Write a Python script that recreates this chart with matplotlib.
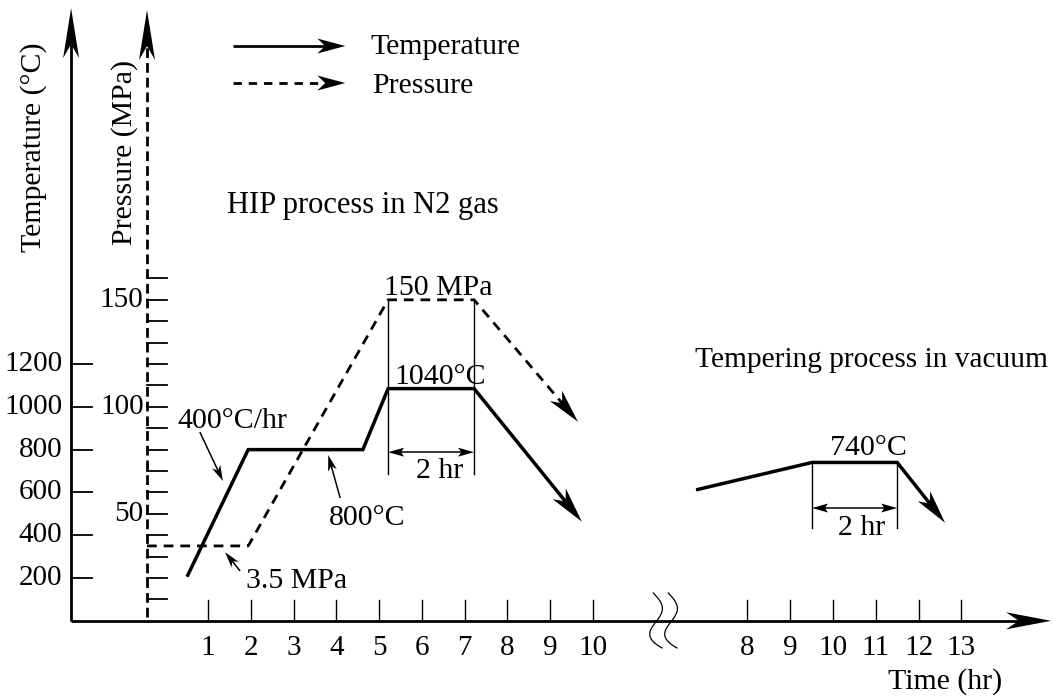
import numpy as np
import matplotlib.pyplot as plt
from matplotlib.patches import Polygon

plt.rcParams['font.family'] = ['Liberation Serif', 'DejaVu Serif']
plt.rcParams['font.size'] = 21.5

# HIP cycle, temperature (solid line), hours / deg C
hip_hours = [0.51, 1.94, 4.62, 5.21, 7.22, 9.74]
hip_temp = [206, 800, 800, 1085, 1085, 463]

# HIP cycle, pressure (dashed line), hours / MPa
press_hours = [-0.425, 1.94, 5.21, 7.22, 9.65]
press_mpa = [35, 35, 150, 150, 93]

# tempering in vacuum, hours on the second time scale / deg C
temper_hours = [6.80, 9.51, 11.50, 12.62]
temper_temp = [612, 740, 740, 458]

temp_ticks = [200, 400, 600, 800, 1000, 1200]
press_ticks = list(range(10, 170, 10))
press_labels = [50, 100, 150]
hip_time_ticks = list(range(1, 11))
temper_time_ticks = list(range(8, 14))

MPA = 10            # 1 MPa is drawn as 10 deg C on the shared y scale
SHIFT = 5.61        # second time axis (after the break) offset
T_AXIS = -2.20      # x of temperature axis
P_AXIS = -0.425     # x of pressure axis
PX_X = 42.78        # pixels per hour
PX_Y = 0.214        # pixels per deg C

fig = plt.figure(figsize=(10.53, 7), dpi=100)
ax = fig.add_axes([0, 0, 1, 1])
ax.set_xlim(-3.862, 20.753)
ax.set_ylim(-370, 2901)
ax.axis('off')


def head(start, end, L, W, notch=0.72):
    # notched arrow head at end, sizes in pixels; returns the notch point
    dx = (end[0] - start[0]) * PX_X
    dy = (end[1] - start[1]) * PX_Y
    n = np.hypot(dx, dy)
    ux, uy = dx / n, dy / n
    pts = [(0, 0), (-L * ux - W * uy, -L * uy + W * ux),
           (-notch * L * ux, -notch * L * uy), (-L * ux + W * uy, -L * uy - W * ux)]
    verts = [(end[0] + px / PX_X, end[1] + py / PX_Y) for px, py in pts]
    ax.add_patch(Polygon(verts, closed=True, facecolor='black', edgecolor='none'))
    return (end[0] - notch * L * ux / PX_X, end[1] - notch * L * uy / PX_Y)


def arrow(start, end, L, W, lw, ls='-'):
    nx, ny = head(start, end, L, W)
    ax.plot([start[0], nx], [start[1], ny], color='black', lw=lw, ls=ls,
            solid_capstyle='butt')


def dim_arrow(x1, x2, y):
    a = head((x2, y), (x1, y), 16, 4.5, notch=0.8)
    b = head((x1, y), (x2, y), 16, 4.5, notch=0.8)
    ax.plot([a[0], b[0]], [y, y], color='black', lw=1.1)


# axes
arrow((T_AXIS, 0), (T_AXIS, 2863), 50, 8, 2.0)
arrow((P_AXIS, 18), (P_AXIS, 2854), 50, 8, 2.0, ls=(0, (3.5, 1.8)))
arrow((T_AXIS, 0), (20.71, 0), 45, 8.5, 2.0)

# temperature ticks
for t in temp_ticks:
    ax.plot([T_AXIS, -1.71], [t, t], color='black', lw=1.3)
    ax.text(-2.41, t, str(t), ha='right', va='center', fontsize=21)

# pressure ticks
for p in press_ticks:
    ax.plot([P_AXIS, 0.042], [p * MPA, p * MPA], color='black', lw=1.3)
for p in press_labels:
    ax.text(P_AXIS - 0.08, p * MPA, str(p), ha='right', va='center', fontsize=21)

# time ticks
for h in hip_time_ticks:
    ax.plot([h, h], [0, 95], color='black', lw=1)
    ax.text(h, -127, str(h), ha='center', va='center', fontsize=21)
for h in temper_time_ticks:
    ax.plot([h + SHIFT, h + SHIFT], [0, 95], color='black', lw=1)
    ax.text(h + SHIFT, -127, str(h), ha='center', va='center', fontsize=21)

# axis break squiggles
tt = np.linspace(0, 1, 60)
dx = (9 * np.sin(2 * np.pi * tt * 0.9) + 14 * tt ** 4) / PX_X
sy = 130 - tt * 257
for x0 in [11.41, 11.76]:
    ax.plot(x0 + dx, sy, color='black', lw=0.9)

# HIP temperature curve
nx, ny = head((hip_hours[-2], hip_temp[-2]), (hip_hours[-1], hip_temp[-1]), 36, 8.5)
ax.plot(hip_hours[:-1] + [nx], hip_temp[:-1] + [ny], color='black', lw=2.5,
        solid_joinstyle='miter', solid_capstyle='butt')

# HIP pressure curve
py = [p * MPA for p in press_mpa]
nx, ny = head((press_hours[-2], py[-2]), (press_hours[-1], py[-1]), 34, 8)
ax.plot(press_hours[:-1] + [nx], py[:-1] + [ny], color='black', lw=2,
        ls=(0, (3.5, 2.5)))

# tempering curve
th = [h + SHIFT for h in temper_hours]
nx, ny = head((th[-2], temper_temp[-2]), (th[-1], temper_temp[-1]), 34, 8)
ax.plot(th[:-1] + [nx], temper_temp[:-1] + [ny], color='black', lw=2.5,
        solid_joinstyle='miter', solid_capstyle='butt')

# hold time dimension marks
for x in [hip_hours[3], hip_hours[4]]:
    ax.plot([x, x], [press_mpa[2] * MPA, 686], color='black', lw=1)
dim_arrow(hip_hours[3], hip_hours[4], 788)
ax.text(6.41, 700, '2 hr', ha='center', va='center')

for x in [th[1], th[2]]:
    ax.plot([x, x], [temper_temp[1], 432], color='black', lw=1)
dim_arrow(th[1], th[2], 527)
ax.text(10.66 + SHIFT, 433, '2 hr', ha='center', va='center')

# annotations
ax.text(6.38, 1555, '150 MPa', ha='center', va='center')
ax.text(6.43, 1138, '1040°C', ha='center', va='center')
ax.text(10.82 + SHIFT, 808, '740°C', ha='center', va='center')

ax.text(1.58, 934, '400°C/hr', ha='center', va='center')
arrow((0.81, 882), (1.35, 653), 16, 4.5, 1.1)
ax.text(4.72, 480, '800°C', ha='center', va='center')
arrow((4.09, 574), (3.81, 775), 16, 4.5, 1.1)
ax.text(3.08, 186, '3.5 MPa', ha='center', va='center')
arrow((1.75, 233), (1.40, 321), 16, 4.5, 1.1)

ax.text(4.63, 1942, 'HIP process in N2 gas', ha='center', va='center', fontsize=22)
ax.text(12.38, 1218, 'Tempering process in vacuum', ha='left', va='center',
        fontsize=21.2)

# legend
arrow((1.59, 2686), (4.21, 2686), 28, 7.5, 2)
ax.text(4.79, 2680, 'Temperature', ha='left', va='center')
arrow((1.59, 2513), (4.21, 2513), 28, 7.5, 2, ls=(0, (3, 2.5)))
ax.text(4.83, 2499, 'Pressure', ha='left', va='center')

# axis titles
ax.text(-3.08, 2214, 'Temperature (°C)', rotation=90, ha='center', va='center')
ax.text(-0.96, 2190, 'Pressure (MPa)', rotation=90, ha='center', va='center')
ax.text(18.23, -285, 'Time (hr)', ha='center', va='center')

fig.savefig('out.png', dpi=100)
